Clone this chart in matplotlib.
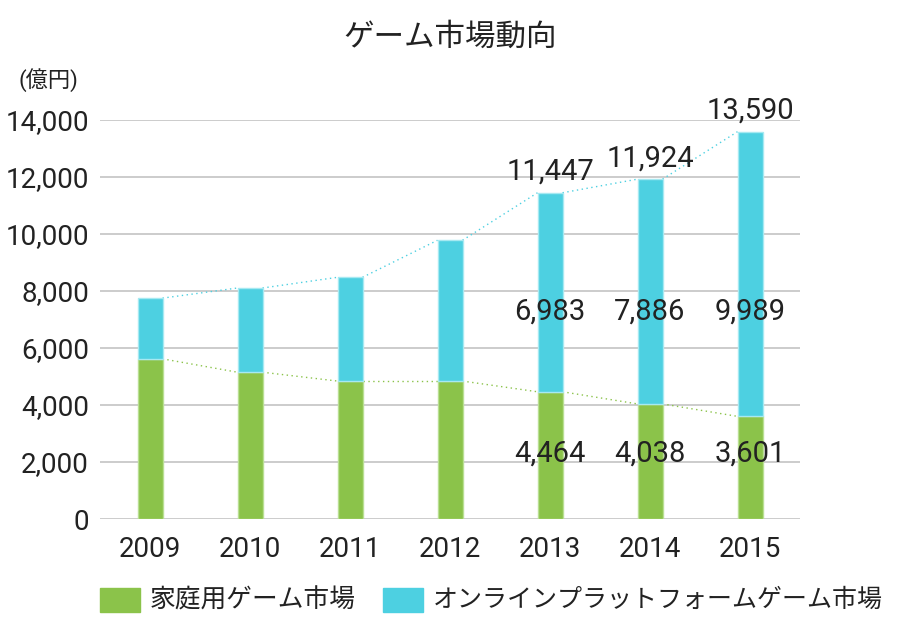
import matplotlib
matplotlib.use("Agg")
import matplotlib.pyplot as plt
import numpy as np
from matplotlib.patches import Rectangle

plt.rcParams['font.family'] = ['Roboto', 'Noto Sans CJK JP', 'DejaVu Sans']

years = ['2009', '2010', '2011', '2012', '2013', '2014', '2015']
home = [5620, 5150, 4840, 4840, 4464, 4038, 3601]
online = [2130, 2955, 3640, 4940, 6983, 7886, 9989]
labeled_years = ['2013', '2014', '2015']
legend_labels = ['家庭用ゲーム市場', 'オンラインプラットフォームゲーム市場']
title = 'ゲーム市場動向'
unit = '(億円)'
yticks = [0, 2000, 4000, 6000, 8000, 10000, 12000, 14000]

green = '#8bc34a'
cyan = '#4dd0e1'
green_edge = '#b9df93'
cyan_edge = '#a6e9f1'
text_color = '#222222'

home = np.array(home)
online = np.array(online)
total = home + online
x = np.arange(len(years))
w = 0.25

fig = plt.figure(figsize=(9, 6.4), dpi=100)
ax = fig.add_axes([100/900, 1-519/640, 700/900, (519-120)/640])

ax.bar(x, home, width=w, color=green, edgecolor=green_edge, linewidth=1, zorder=3)
ax.bar(x, online, width=w, bottom=home, color=cyan, edgecolor=cyan_edge, linewidth=1, zorder=3)

# dotted connectors between bar edges
for i in range(len(x) - 1):
    ax.plot([x[i] + w/2, x[i+1] - w/2], [home[i], home[i+1]], color=green,
            linestyle=(0, (1, 2.5)), linewidth=1, zorder=2)
    ax.plot([x[i] + w/2, x[i+1] - w/2], [total[i], total[i+1]], color=cyan,
            linestyle=(0, (1, 2.5)), linewidth=1, zorder=2)

# data labels
for i, yr in enumerate(years):
    if yr in labeled_years:
        ax.annotate(f'{total[i]:,}', (x[i], total[i]), xytext=(0, 5),
                    textcoords='offset points', ha='center', va='bottom',
                    fontsize=21, color=text_color, zorder=5, annotation_clip=False)
        ax.text(x[i], 7260, f'{online[i]:,}', ha='center', va='center',
                fontsize=21, color=text_color, zorder=5)
        ax.text(x[i], 2300, f'{home[i]:,}', ha='center', va='center',
                fontsize=21, color=text_color, zorder=5)

ax.set_xlim(-0.5, len(x) - 0.5)
ax.set_ylim(0, 14000)
ax.set_yticks(yticks)
ax.set_yticklabels([f'{v:,}' for v in yticks])
ax.set_xticks(x)
ax.set_xticklabels(years)
ax.tick_params(axis='both', length=0, labelsize=20, colors=text_color)
ax.tick_params(axis='x', pad=12)
ax.tick_params(axis='y', pad=8)
ax.yaxis.grid(True, color='#c8c8c8', linewidth=1.3, zorder=0)
ax.set_axisbelow(True)
for s in ax.spines.values():
    s.set_visible(False)

fig.text(0.5, 1-37/640, title, ha='center', va='center', fontsize=22, color=text_color)
fig.text(48/900, 1-80/640, unit, ha='center', va='center', fontsize=16, color=text_color)

# legend
fig.patches.append(Rectangle((100/900, 1-612/640), 40/900, 24/640, transform=fig.transFigure,
                             color=green, figure=fig))
fig.text(150/900, 1-600/640, legend_labels[0], ha='left', va='center', fontsize=18.5, color=text_color)
fig.patches.append(Rectangle((383/900, 1-612/640), 40/900, 24/640, transform=fig.transFigure,
                             color=cyan, figure=fig))
fig.text(433/900, 1-600/640, legend_labels[1], ha='left', va='center', fontsize=18, color=text_color)

fig.savefig('out.png', dpi=100)
